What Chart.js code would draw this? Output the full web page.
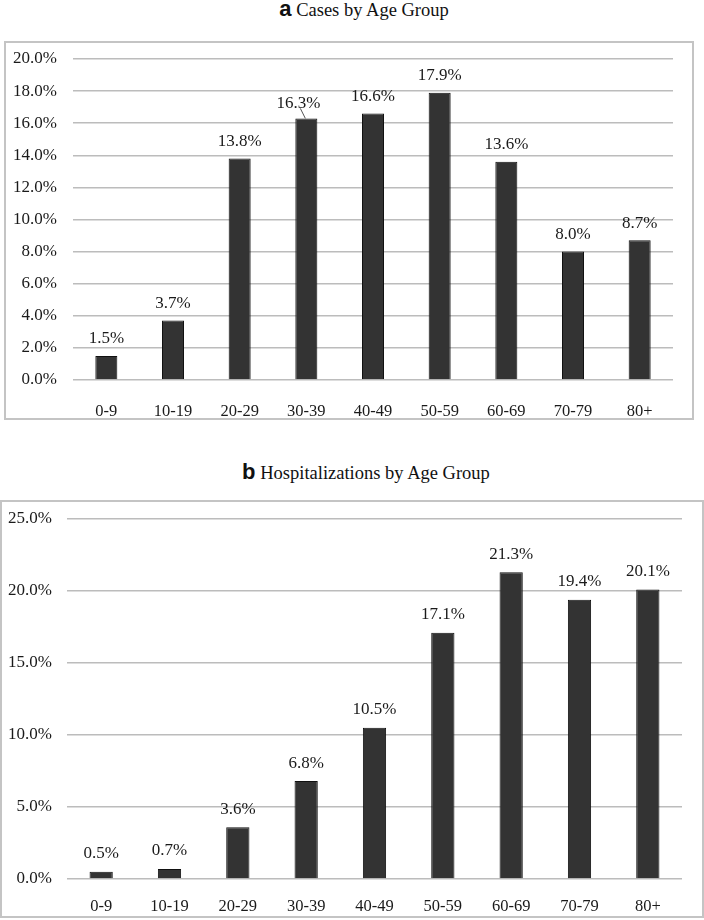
<!DOCTYPE html>
<html>
<head>
<meta charset="utf-8">
<script src="https://cdn.jsdelivr.net/npm/chart.js@4.4.0/dist/chart.umd.min.js"></script>
<style>
  body { margin: 0; background: #fff; width: 704px; height: 920px; position: relative; overflow: hidden; }
  .titulo { position: absolute; text-align: center; font-family: "Liberation Serif", "Times New Roman", serif; font-size: 18.5px; color: #111; white-space: nowrap; }
  .titulo b { font-family: "Liberation Sans", Arial, sans-serif; font-size: 22px; font-weight: bold; }
  .caixa { position: absolute; box-sizing: border-box; border: 2px solid #c4c4c4; }
</style>
</head>
<body>
<div class="titulo" style="left:0; width:728px; top:-4px;"><b>a</b> Cases by Age Group</div>
<div class="caixa" style="left:4px; top:41px; width:690px; height:379px;">
  <canvas id="casos_por_idade"></canvas>
</div>
<div class="titulo" style="left:0; width:732px; top:459px;"><b>b</b> Hospitalizations by Age Group</div>
<div class="caixa" style="left:0px; top:500px; width:704px; height:418px;">
  <canvas id="internacoes_por_idade"></canvas>
</div>
<script>
const faixas = ["0-9", "10-19", "20-29", "30-39", "40-49", "50-59", "60-69", "70-79", "80+"];
const casos = [1.5, 3.7, 13.8, 16.3, 16.6, 17.9, 13.6, 8.0, 8.7];
const internacoes = [0.5, 0.7, 3.6, 6.8, 10.5, 17.1, 21.3, 19.4, 20.1];

const fonte = "'Liberation Serif', 'Times New Roman', serif";

// rotulos em cima das barras
const rotulos = {
  id: "rotulos",
  afterDatasetsDraw(chart, args, opts) {
    const ctx = chart.ctx;
    const meta = chart.getDatasetMeta(0);
    ctx.save();
    ctx.font = "17px " + fonte;
    ctx.fillStyle = "#1a1a1a";
    ctx.textAlign = "center";
    ctx.textBaseline = "middle";
    meta.data.forEach(function (bar, i) {
      const v = chart.data.datasets[0].data[i];
      let x = bar.x;
      let y = bar.y - opts.offset;
      const desloc = opts.desloc && opts.desloc[i];
      if (desloc) {
        x += desloc[0];
        y += desloc[1];
        ctx.strokeStyle = "#555";
        ctx.lineWidth = 1;
        ctx.beginPath();
        ctx.moveTo(x + 2, y + 5);
        ctx.lineTo(bar.x - 1, bar.y);
        ctx.stroke();
      }
      ctx.fillText(v.toFixed(1) + "%", x, y);
    });
    ctx.restore();
  },
};

function gera_grafico(id, valores, maximo, passo, cfg) {
  const ctx = document.getElementById(id).getContext("2d");
  return new Chart(ctx, {
    type: "bar",
    data: {
      labels: faixas,
      datasets: [
        {
          data: valores,
          backgroundColor: "#333333",
          borderColor: "#111111",
          borderWidth: 1,
          barPercentage: cfg.barra,
          categoryPercentage: 1,
        },
      ],
    },
    options: {
      responsive: true,
      maintainAspectRatio: false,
      animation: false,
      layout: { padding: { top: cfg.topo, right: cfg.direita, bottom: 0, left: 0 } },
      plugins: {
        legend: { display: false },
        tooltip: { enabled: false },
        rotulos: { offset: cfg.offset, desloc: cfg.desloc },
      },
      scales: {
        x: {
          grid: { display: false },
          border: { display: false },
          ticks: { color: "#1a1a1a", font: { family: fonte, size: 16.5 }, padding: cfg.xpad, maxRotation: 0 },
          afterFit: function (scale) {
            scale.height = cfg.xaltura;
            scale.paddingLeft = 0;
            scale.paddingRight = 0;
          },
        },
        y: {
          min: 0,
          max: maximo,
          grid: { color: "#bcbcbc", lineWidth: 1.6, drawTicks: false },
          border: { display: false },
          ticks: {
            stepSize: passo,
            color: "#1a1a1a",
            font: { family: fonte, size: 17 },
            padding: cfg.ypad,
            callback: function (v) { return v.toFixed(1) + "%"; },
          },
          afterFit: function (scale) {
            scale.width = cfg.ylargura;
            scale.paddingTop = 0;
            scale.paddingBottom = 0;
          },
        },
      },
    },
    plugins: [rotulos],
  });
}

gera_grafico("casos_por_idade", casos, 20, 2, {
  barra: 0.33, topo: 16, direita: 19, xaltura: 38, xpad: 14, ylargura: 67, ypad: 16, offset: 17,
  desloc: { 3: [-8, 2] },
});
gera_grafico("internacoes_por_idade", internacoes, 25, 5, {
  barra: 0.34, topo: 17, direita: 20, xaltura: 37, xpad: 10, ylargura: 65, ypad: 15, offset: 18,
});
</script>
</body>
</html>
